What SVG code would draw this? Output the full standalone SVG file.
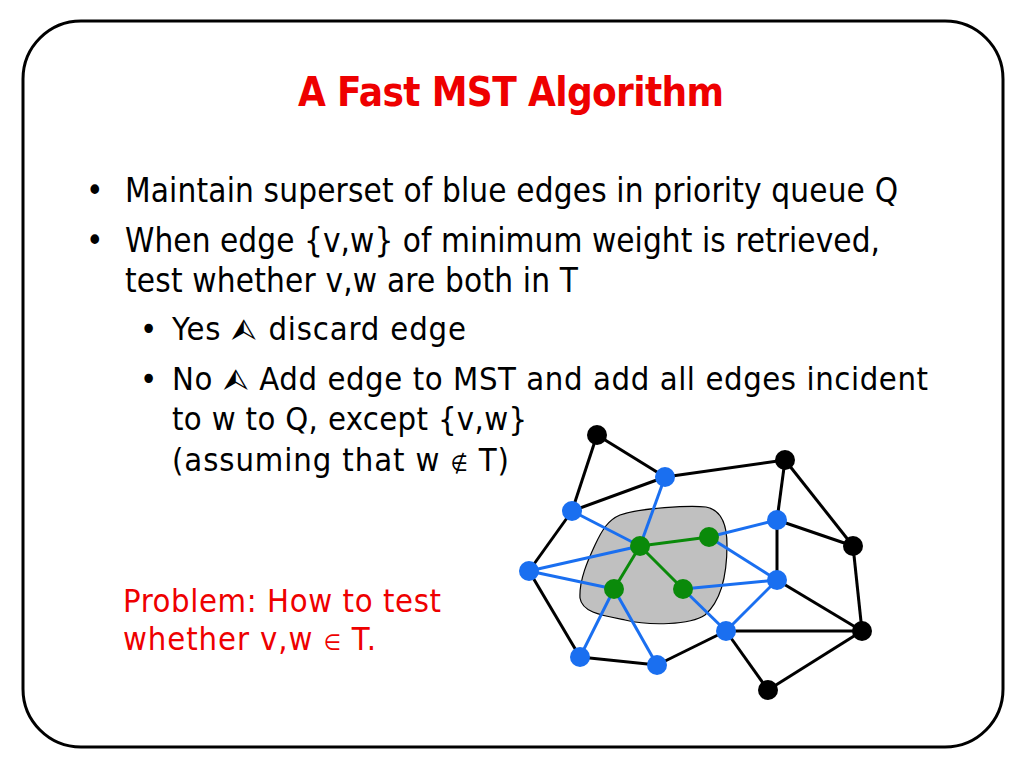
<svg xmlns="http://www.w3.org/2000/svg" width="1024" height="768" viewBox="0 0 1024 768">
<style>
.t{font-family:"DejaVu Sans Condensed","DejaVu Sans",sans-serif;font-stretch:condensed;fill:#000}
.b1{font-size:33px}
.b2{font-size:32.5px}
.red{fill:#ee0000}
.arr{font-size:30px}
.sym{font-size:22px}
.eb{stroke:#000;stroke-width:3;fill:none}
.eu{stroke:#1a6ff0;stroke-width:3;fill:none}
.eg{stroke:#0a8a0a;stroke-width:3;fill:none}
.nb{fill:#000}
.nu{fill:#1a6ff0}
.ng{fill:#0a8a0a}
</style>
<rect x="23" y="21" width="980" height="726" rx="58" ry="58" fill="#fff" stroke="#000" stroke-width="3"/>
<g id="title"><text class="t" x="511" y="106" text-anchor="middle" font-size="40" font-weight="bold" style="fill:#ee0000" textLength="426">A Fast MST Algorithm</text></g>
<g id="bullets">
<text class="t b1" x="86" y="202">•</text>
<text class="t b1" x="125" y="202" textLength="773">Maintain superset of blue edges in priority queue Q</text>
<text class="t b1" x="86" y="252">•</text>
<text class="t b1" x="125" y="252" textLength="755">When edge {v,w} of minimum weight is retrieved,</text>
<text class="t b1" x="125" y="292" textLength="453">test whether v,w are both in T</text>
<text class="t b2" x="140" y="340">•</text>
<text class="t b2" x="172" y="340" textLength="294">Yes <tspan class="arr">⮙</tspan> discard edge</text>
<text class="t b2" x="140" y="390">•</text>
<text class="t b2" x="172" y="390" textLength="756">No <tspan class="arr">⮙</tspan> Add edge to MST and add all edges incident</text>
<text class="t b2" x="172" y="430" textLength="355">to w to Q, except {v,w}</text>
<text class="t b2" x="172" y="471" textLength="337">(assuming that w <tspan class="sym">∉</tspan> T)</text>
</g>
<g id="problem">
<text class="t b2 red" x="123" y="612" textLength="318">Problem: How to test</text>
<text class="t b2 red" x="123" y="650" textLength="253">whether v,w <tspan class="sym">∈</tspan> T.</text>
</g>
<g id="tree-region"><path d="M620,515 C640,508 690,505 706,507 C722,510 727,525 727,545 C727,575 722,600 705,615 C690,625 650,626 625,620 C600,615 582,612 580,598 C579,580 588,560 595,545 C602,530 608,520 620,515 Z" fill="#c0c0c0" stroke="#000" stroke-width="1.2"/></g>
<g id="connectors">
<line class="eb" x1="597" y1="435" x2="665" y2="477"/>
<line class="eb" x1="597" y1="435" x2="572" y2="511"/>
<line class="eb" x1="665" y1="477" x2="785" y2="460"/>
<line class="eb" x1="572" y1="511" x2="665" y2="477"/>
<line class="eb" x1="572" y1="511" x2="529" y2="571"/>
<line class="eb" x1="529" y1="571" x2="580" y2="657"/>
<line class="eb" x1="580" y1="657" x2="657" y2="665"/>
<line class="eb" x1="657" y1="665" x2="726" y2="631"/>
<line class="eb" x1="726" y1="631" x2="862" y2="631"/>
<line class="eb" x1="726" y1="631" x2="768" y2="690"/>
<line class="eb" x1="768" y1="690" x2="862" y2="631"/>
<line class="eb" x1="862" y1="631" x2="853" y2="546"/>
<line class="eb" x1="853" y1="546" x2="785" y2="460"/>
<line class="eb" x1="785" y1="460" x2="777" y2="520"/>
<line class="eb" x1="777" y1="520" x2="777" y2="580"/>
<line class="eb" x1="777" y1="520" x2="853" y2="546"/>
<line class="eb" x1="777" y1="580" x2="862" y2="631"/>
<line class="eu" x1="640" y1="546" x2="665" y2="477"/>
<line class="eu" x1="640" y1="546" x2="572" y2="511"/>
<line class="eu" x1="640" y1="546" x2="529" y2="571"/>
<line class="eu" x1="529" y1="571" x2="614" y2="589"/>
<line class="eu" x1="614" y1="589" x2="580" y2="657"/>
<line class="eu" x1="614" y1="589" x2="657" y2="665"/>
<line class="eu" x1="709" y1="537" x2="777" y2="520"/>
<line class="eu" x1="709" y1="537" x2="777" y2="580"/>
<line class="eu" x1="683" y1="589" x2="777" y2="580"/>
<line class="eu" x1="683" y1="589" x2="726" y2="631"/>
<line class="eu" x1="726" y1="631" x2="777" y2="580"/>
<line class="eg" x1="640" y1="546" x2="709" y2="537"/>
<line class="eg" x1="640" y1="546" x2="614" y2="589"/>
<line class="eg" x1="640" y1="546" x2="683" y2="589"/>
</g>
<g id="n-B1"><circle class="nb" cx="597" cy="435" r="10"/></g>
<g id="n-B2"><circle class="nb" cx="785" cy="460" r="10"/></g>
<g id="n-B3"><circle class="nb" cx="853" cy="546" r="10"/></g>
<g id="n-B4"><circle class="nb" cx="862" cy="631" r="10"/></g>
<g id="n-B5"><circle class="nb" cx="768" cy="690" r="10"/></g>
<g id="n-b1"><circle class="nu" cx="665" cy="477" r="10"/></g>
<g id="n-b2"><circle class="nu" cx="572" cy="511" r="10"/></g>
<g id="n-b3"><circle class="nu" cx="777" cy="520" r="10"/></g>
<g id="n-b4"><circle class="nu" cx="529" cy="571" r="10"/></g>
<g id="n-b5"><circle class="nu" cx="777" cy="580" r="10"/></g>
<g id="n-b6"><circle class="nu" cx="726" cy="631" r="10"/></g>
<g id="n-b7"><circle class="nu" cx="580" cy="657" r="10"/></g>
<g id="n-b8"><circle class="nu" cx="657" cy="665" r="10"/></g>
<g id="n-g1"><circle class="ng" cx="640" cy="546" r="10"/></g>
<g id="n-g2"><circle class="ng" cx="709" cy="537" r="10"/></g>
<g id="n-g3"><circle class="ng" cx="614" cy="589" r="10"/></g>
<g id="n-g4"><circle class="ng" cx="683" cy="589" r="10"/></g>
</svg>
